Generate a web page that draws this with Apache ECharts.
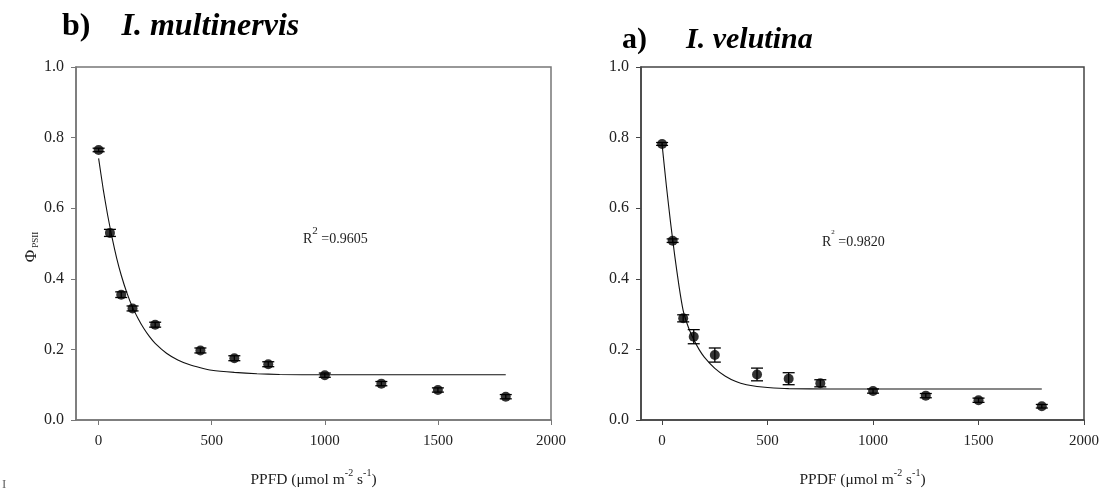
<!DOCTYPE html>
<html>
<head>
<meta charset="utf-8">
<script src="https://cdn.jsdelivr.net/npm/echarts@6/dist/echarts.min.js"></script>
<style>html,body{margin:0;padding:0;background:#fff;}#c{width:1102px;height:493px;}</style>
</head>
<body>
<div id="c"></div>
<script>
// ---- data ----
const xLevels = [0, 50, 100, 150, 250, 450, 600, 750, 1000, 1250, 1500, 1800];
const multinervisMean = [0.765, 0.530, 0.355, 0.316, 0.270, 0.197, 0.175, 0.158, 0.127, 0.103, 0.085, 0.066];
const multinervisErr  = [0.005, 0.010, 0.008, 0.007, 0.007, 0.007, 0.007, 0.007, 0.006, 0.006, 0.006, 0.006];
const velutinaMean = [0.782, 0.508, 0.288, 0.236, 0.184, 0.129, 0.117, 0.104, 0.082, 0.069, 0.056, 0.039];
const velutinaErr  = [0.004, 0.005, 0.010, 0.020, 0.020, 0.018, 0.017, 0.010, 0.006, 0.006, 0.006, 0.005];
// fitted curves
const multinervisFitX = [0, 20, 40, 60, 80, 100, 125, 150, 175, 200, 225, 250, 300, 350, 400, 450, 500, 600, 700, 800, 1000, 1200, 1500, 1800];
const multinervisFit  = [0.741, 0.655, 0.580, 0.515, 0.458, 0.410, 0.360, 0.319, 0.287, 0.259, 0.236, 0.217, 0.189, 0.170, 0.157, 0.148, 0.141, 0.135, 0.131, 0.129, 0.128, 0.128, 0.128, 0.128];
const velutinaFitX = [0, 20, 40, 60, 80, 100, 125, 150, 175, 200, 250, 300, 350, 400, 450, 500, 600, 800, 1000, 1400, 1800];
const velutinaFit  = [0.780, 0.665, 0.560, 0.465, 0.380, 0.310, 0.262, 0.228, 0.200, 0.178, 0.146, 0.124, 0.109, 0.100, 0.095, 0.092, 0.089, 0.088, 0.088, 0.088, 0.088];
const xTicks = [0, 500, 1000, 1500, 2000];
const r2Left = '0.9605';
const r2Right = '0.9820';

const FONT = 'Liberation Serif';

function pairs(xs, ys) { return xs.map((x, i) => [x, ys[i]]); }
function errs(xs, ys, es) { return xs.map((x, i) => [x, ys[i] - es[i], ys[i] + es[i]]); }

function errRender(params, api) {
  const x = api.value(0), lo = api.value(1), hi = api.value(2);
  const pHi = api.coord([x, hi]), pLo = api.coord([x, lo]);
  const w = 6;
  const st = { stroke: '#000', lineWidth: 1.3 };
  return {
    type: 'group',
    children: [
      { type: 'line', shape: { x1: pHi[0], y1: pHi[1], x2: pLo[0], y2: pLo[1] }, style: st },
      { type: 'line', shape: { x1: pHi[0] - w, y1: pHi[1], x2: pHi[0] + w, y2: pHi[1] }, style: st },
      { type: 'line', shape: { x1: pLo[0] - w, y1: pLo[1], x2: pLo[0] + w, y2: pLo[1] }, style: st }
    ]
  };
}

function xAxisCfg(gi, name, lineColor) {
  return {
    type: 'value', gridIndex: gi, min: -100, max: 2000,
    name: name, nameLocation: 'middle', nameGap: 48,
    nameTextStyle: { fontFamily: FONT, fontSize: 15, color: '#222',
      rich: {
        n: { fontFamily: FONT, fontSize: 15.5, color: '#222', lineHeight: 20, verticalAlign: 'bottom' },
        s: { fontFamily: FONT, fontSize: 10, color: '#222', lineHeight: 20, verticalAlign: 'top' }
      } },
    axisLine: { show: true, onZero: false, lineStyle: { color: lineColor, width: 1.5 } },
    axisTick: { show: true, inside: false, length: 5, customValues: xTicks, lineStyle: { color: lineColor } },
    axisLabel: { customValues: xTicks, margin: 14, fontFamily: FONT, fontSize: 15, color: '#222', formatter: v => String(v) },
    splitLine: { show: false }
  };
}
function yAxisCfg(gi, lineColor) {
  return {
    type: 'value', gridIndex: gi, min: 0, max: 1, interval: 0.2,
    axisLine: { show: true, onZero: false, lineStyle: { color: lineColor, width: 1.5 } },
    axisTick: { show: true, inside: false, length: 5, lineStyle: { color: lineColor } },
    axisLabel: { margin: 12, fontFamily: FONT, fontSize: 16, color: '#222', formatter: v => v.toFixed(1) },
    splitLine: { show: false }
  };
}

const option = {
  animation: false,
  backgroundColor: '#fff',
  grid: [
    { left: 76, right: 551, top: 67, bottom: 68, show: true, borderColor: '#777', borderWidth: 1.5, backgroundColor: 'transparent' },
    { left: 641, right: 16, top: 67, bottom: 68, show: true, borderColor: '#444', borderWidth: 1.5, backgroundColor: 'transparent' }
  ],
  xAxis: [
    xAxisCfg(0, '{n|PPFD (μmol m}{s|-2}{n| s}{s|-1}{n|)}', '#777'),
    xAxisCfg(1, '{n|PPDF (μmol m}{s|-2}{n| s}{s|-1}{n|)}', '#444')
  ],
  yAxis: [yAxisCfg(0, '#777'), yAxisCfg(1, '#444')],
  series: [
    { type: 'line', xAxisIndex: 0, yAxisIndex: 0, data: pairs(multinervisFitX, multinervisFit), smooth: 0.2,
      showSymbol: false, lineStyle: { color: '#111', width: 1.1 }, z: 2 },
    { type: 'custom', xAxisIndex: 0, yAxisIndex: 0, data: errs(xLevels, multinervisMean, multinervisErr), renderItem: errRender, z: 3 },
    { type: 'scatter', xAxisIndex: 0, yAxisIndex: 0, data: pairs(xLevels, multinervisMean), symbol: 'circle', symbolSize: 10,
      itemStyle: { color: '#000' }, z: 4 },
    { type: 'line', xAxisIndex: 1, yAxisIndex: 1, data: pairs(velutinaFitX, velutinaFit), smooth: 0.2,
      showSymbol: false, lineStyle: { color: '#111', width: 1.1 }, z: 2 },
    { type: 'custom', xAxisIndex: 1, yAxisIndex: 1, data: errs(xLevels, velutinaMean, velutinaErr), renderItem: errRender, z: 3 },
    { type: 'scatter', xAxisIndex: 1, yAxisIndex: 1, data: pairs(xLevels, velutinaMean), symbol: 'circle', symbolSize: 10,
      itemStyle: { color: '#000' }, z: 4 }
  ],
  graphic: [
    { type: 'text', left: 62, top: 11, style: { text: '{a|b)}{sp| }{b|I. multinervis}',
      rich: { a: { fontFamily: FONT, fontSize: 32, fontWeight: 'bold', fill: '#000' },
              sp: { fontSize: 32, width: 31 },
              b: { fontFamily: FONT, fontSize: 32, fontWeight: 'bold', fontStyle: 'italic', fill: '#000' } } } },
    { type: 'text', left: 622, top: 25, style: { text: '{a|a)}{sp| }{b|I. velutina}',
      rich: { a: { fontFamily: FONT, fontSize: 30, fontWeight: 'bold', fill: '#000' },
              sp: { fontSize: 30, width: 39 },
              b: { fontFamily: FONT, fontSize: 30, fontWeight: 'bold', fontStyle: 'italic', fill: '#000' } } } },
    { type: 'text', x: 30, y: 247, rotation: Math.PI / 2, style: { text: '{p|Φ}{s| PSII}', align: 'center', verticalAlign: 'middle',
      rich: { p: { fontFamily: FONT, fontSize: 17, fill: '#222', lineHeight: 20, verticalAlign: 'bottom' },
              s: { fontFamily: FONT, fontSize: 9, fill: '#222', lineHeight: 14, verticalAlign: 'bottom' } } } },
    { type: 'text', left: 303, top: 226, style: { text: '{r|R}{s|2}{r| =' + r2Left + '}',
      rich: { r: { fontFamily: FONT, fontSize: 14, fill: '#222', lineHeight: 20, verticalAlign: 'bottom' },
              s: { fontFamily: FONT, fontSize: 11, fill: '#222', lineHeight: 12, verticalAlign: 'top' } } } },
    { type: 'text', left: 822, top: 229, style: { text: '{r|R}{s|2}{r| =' + r2Right + '}',
      rich: { r: { fontFamily: FONT, fontSize: 14, fill: '#222', lineHeight: 20, verticalAlign: 'bottom' },
              s: { fontFamily: FONT, fontSize: 7, fill: '#222', lineHeight: 10, verticalAlign: 'top' } } } },
    { type: 'text', left: 2, top: 478, style: { text: 'I', fontFamily: FONT, fontSize: 13, fill: '#666' } }
  ]
};

const chart = echarts.init(document.getElementById('c'), null, { renderer: 'canvas' });
chart.setOption(option);
</script>
</body>
</html>
